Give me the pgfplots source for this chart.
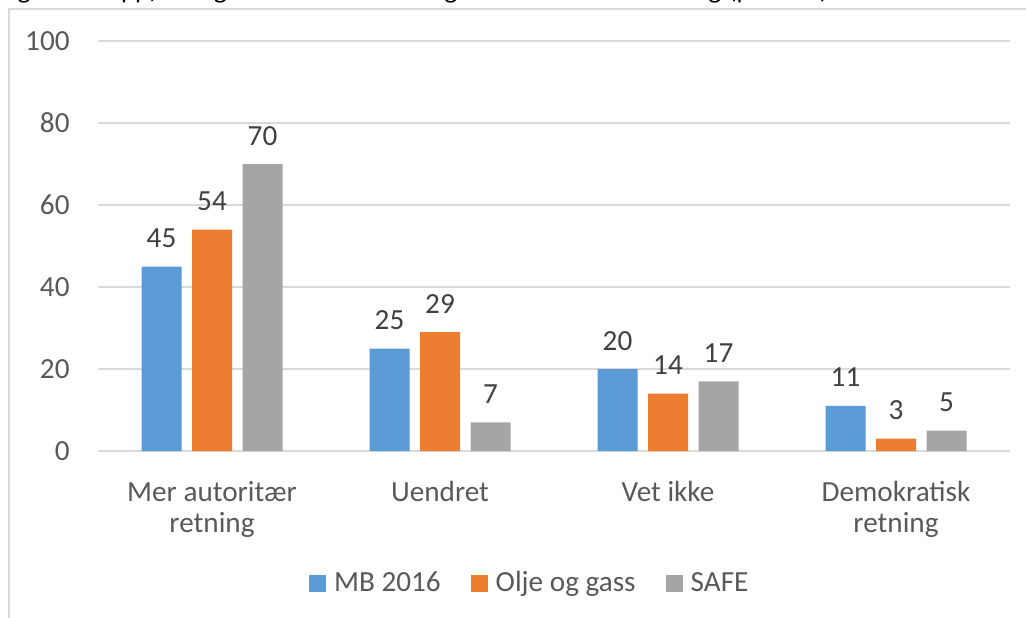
\documentclass[border=0pt]{standalone}
\usepackage{pgfplots}
\pgfplotsset{compat=1.18}
\usepackage{fontspec}
\setmainfont{Carlito}
\definecolor{cblue}{HTML}{5B9BD5}
\definecolor{corange}{HTML}{ED7D31}
\definecolor{cgray}{HTML}{A5A5A5}
\definecolor{gridc}{HTML}{D9D9D9}
\definecolor{ticktxt}{HTML}{595959}
\definecolor{labtxt}{HTML}{404040}
\begin{document}
\begin{tikzpicture}
\useasboundingbox (0,0) rectangle (513pt,308.5pt);
\clip (0,0) rectangle (513pt,308.5pt);
\node[anchor=base west, inner sep=0pt, font=\fontsize{13.5}{16}\selectfont\itshape, text=black] at (0pt,309pt) {Figur 17: Oppfatninger om hvilken retning arbeidslivet utvikler seg (prosent)};
\draw[gridc, line width=0.6pt] (4.5pt,-2pt) -- (4.5pt,304pt) -- (520pt,304pt);
\begin{axis}[
  at={(49pt,83pt)}, anchor=south west,
  scale only axis, width=456pt, height=205pt,
  ybar=5.25pt, bar width=20pt,
  xmin=-0.5, xmax=3.5, ymin=0, ymax=100,
  xtick={0,1,2,3},
  xticklabels={{Mer autoritær\\retning},{Uendret},{Vet ikke},{Demokratisk\\retning}},
  xticklabel style={align=center, font=\fontsize{14.6}{15.5}\selectfont, text=ticktxt, anchor=north, inner sep=0pt, yshift=-15pt},
  ytick={0,20,40,60,80,100},
  yticklabel style={font=\fontsize{14.6}{16}\selectfont, text=ticktxt, anchor=east, inner sep=0pt, xshift=-14pt},
  /pgf/number format/assume math mode=true,
  ymajorgrids, xmajorgrids=false, grid style={draw=gridc, line width=0.6pt},
  axis line style={draw=none}, major tick length=0pt,
  nodes near coords,
  every node near coord/.append style={font=\fontsize{14.6}{16}\selectfont, text=labtxt, anchor=base, inner sep=0pt, yshift=9.5pt},
  legend style={at={(0.4745,-0.322)}, anchor=center, draw=none, legend columns=3, font=\fontsize{14.6}{16}\selectfont, text=ticktxt,
    /tikz/every odd column/.append style={column sep=2pt},
    /tikz/every even column/.append style={column sep=13pt}},
  legend image code/.code={\fill[#1] (0pt,-4.25pt) rectangle (8.5pt,4.25pt);},
]
\addplot[fill=cblue, draw=none] coordinates {(0,45) (1,25) (2,20) (3,11)};
\addplot[fill=corange, draw=none] coordinates {(0,54) (1,29) (2,14) (3,3)};
\addplot[fill=cgray, draw=none] coordinates {(0,70) (1,7) (2,17) (3,5)};
\legend{MB 2016, Olje og gass, SAFE}
\end{axis}
\end{tikzpicture}
\end{document}
